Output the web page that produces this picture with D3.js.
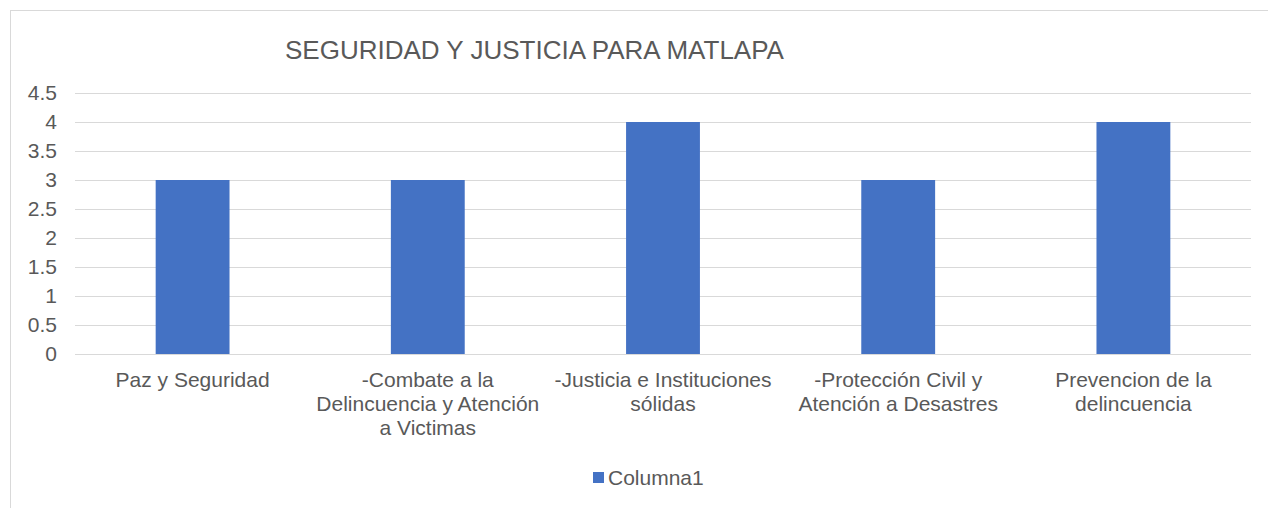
<!DOCTYPE html>
<html>
<head>
<meta charset="utf-8">
<script src="https://cdn.jsdelivr.net/npm/d3@7"></script>
<style>
  body { margin: 0; background: #fff; }
  svg { display: block; font-family: "Liberation Sans", Arial, sans-serif; }
</style>
</head>
<body>
<div id="chart"></div>
<script>
// chart data
var categories = [
  "Paz y Seguridad",
  "-Combate a la\nDelincuencia y Atención\na Victimas",
  "-Justicia e Instituciones\nsólidas",
  "-Protección Civil y\nAtención a Desastres",
  "Prevencion de la\ndelincuencia"
];
var values = [3, 3, 4, 3, 4];
var yTicks = [0, 0.5, 1, 1.5, 2, 2.5, 3, 3.5, 4, 4.5];
var seriesName = "Columna1";
var title = "SEGURIDAD Y JUSTICIA PARA MATLAPA";

var svgWidth = 1268, svgHeight = 508;
var margin = { top: 93, right: 17, bottom: 154, left: 75 };
var width = svgWidth - margin.left - margin.right;
var height = svgHeight - margin.top - margin.bottom;

var textColor = "#595959";
var gridColor = "#d9d9d9";
var barColor = "#4472c4";

var svg = d3.select("#chart").append("svg")
  .attr("width", svgWidth)
  .attr("height", svgHeight);

// chart frame
svg.append("rect")
  .attr("x", 10.5).attr("y", 10.5)
  .attr("width", svgWidth + 20).attr("height", svgHeight + 20)
  .attr("fill", "none")
  .attr("stroke", gridColor)
  .attr("stroke-width", 1);

svg.append("text")
  .attr("x", 285)
  .attr("y", 59)
  .attr("font-size", "26px")
  .attr("fill", textColor)
  .text(title);

var chartGroup = svg.append("g")
  .attr("transform", `translate(${margin.left}, ${margin.top})`);

var xScale = d3.scaleBand()
  .domain(categories)
  .range([0, width])
  .paddingInner(0.686)
  .paddingOuter(0.343);

var yScale = d3.scaleLinear()
  .domain([0, 4.5])
  .range([height, 0]);

// gridlines
var leftAxis = d3.axisLeft(yScale)
  .tickValues(yTicks)
  .tickSize(-width)
  .tickPadding(18)
  .tickFormat(d => String(d));

var yAxis = chartGroup.append("g").call(leftAxis);
yAxis.select(".domain").remove();
yAxis.selectAll(".tick line").attr("stroke", gridColor).attr("stroke-width", 1);
yAxis.selectAll(".tick text")
  .attr("fill", textColor)
  .attr("font-size", "21px")
  .attr("font-family", "Liberation Sans, Arial, sans-serif");

// bars
chartGroup.selectAll("rect.bar")
  .data(values)
  .enter()
  .append("rect")
  .attr("class", "bar")
  .attr("x", (d, i) => xScale(categories[i]))
  .attr("y", d => yScale(d))
  .attr("width", xScale.bandwidth())
  .attr("height", d => height - yScale(d))
  .attr("fill", barColor);

// category labels
var bottomAxis = d3.axisBottom(xScale).tickSize(0).tickFormat("");
var xAxis = chartGroup.append("g")
  .attr("transform", `translate(0, ${height})`)
  .call(bottomAxis);
xAxis.select(".domain").remove();

xAxis.selectAll(".tick").each(function(d) {
  var t = d3.select(this).append("text")
    .attr("fill", textColor)
    .attr("font-size", "21px")
    .attr("font-family", "Liberation Sans, Arial, sans-serif")
    .attr("text-anchor", "middle")
    .attr("y", 33);
  d.split("\n").forEach(function(line, i) {
    t.append("tspan")
      .attr("x", 0)
      .attr("dy", i === 0 ? 0 : 24)
      .text(line);
  });
});

// redraw baseline over bars
chartGroup.append("line")
  .attr("x1", 0).attr("x2", width)
  .attr("y1", yScale(0) + 0.5).attr("y2", yScale(0) + 0.5)
  .attr("stroke", gridColor);

// legend
var legend = svg.append("g").attr("transform", "translate(593, 472)");
legend.append("rect")
  .attr("width", 11).attr("height", 11)
  .attr("fill", barColor);
legend.append("text")
  .attr("x", 15)
  .attr("y", 13)
  .attr("font-size", "21px")
  .attr("fill", textColor)
  .text(seriesName);
</script>
</body>
</html>
